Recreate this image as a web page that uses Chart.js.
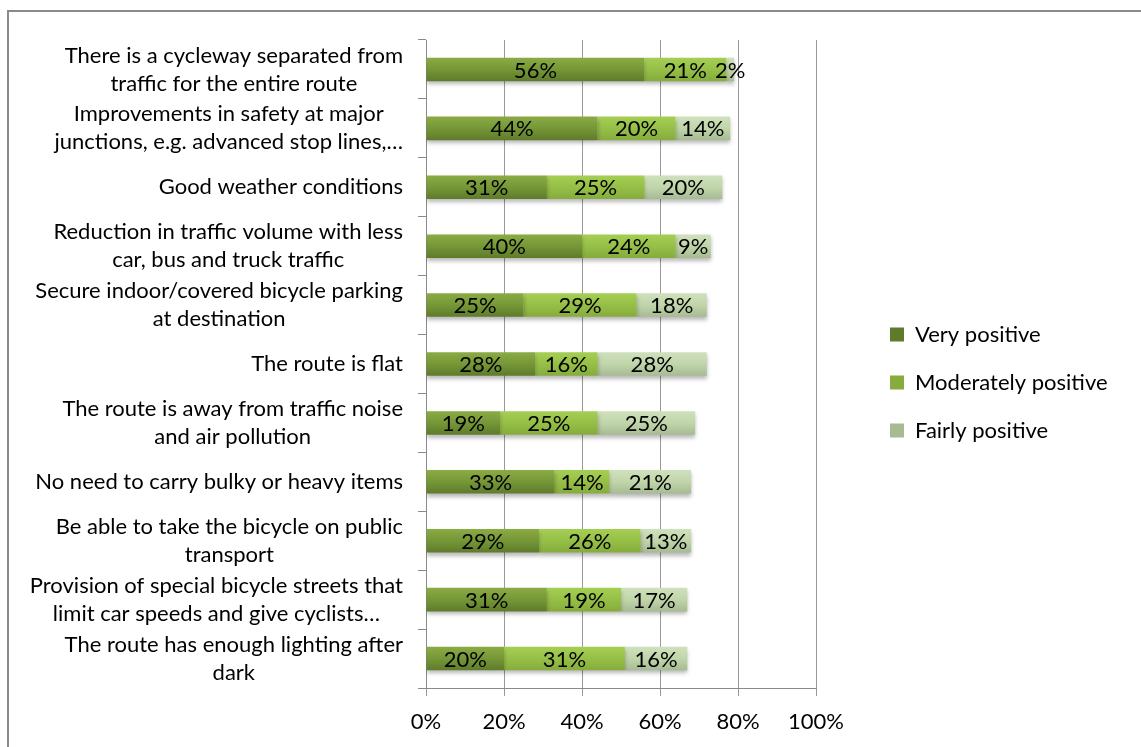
<!DOCTYPE html>
<html lang="en">
  <head>
    <meta charset="UTF-8" />
    <meta name="viewport" content="width=device-width, initial-scale=1.0" />
    <title>Factors encouraging cycling</title>

    <script src="https://cdn.jsdelivr.net/npm/chart.js@4.4.1/dist/chart.umd.min.js"></script>

    <style>
      body {
        margin: 0;
        background-color: white;
      }

      .chart-container {
        width: 1141px;
        height: 747px;
        position: relative;
      }
    </style>
  </head>

  <body>
    <div class="chart-container">
      <canvas id="myChart"></canvas>
    </div>

    <script>
      // ---------------- data ----------------
      const categories = [
        ["There is a cycleway separated from", "traffic for the entire route"],
        ["Improvements in safety at major", "junctions, e.g. advanced stop lines,…"],
        "Good weather conditions",
        ["Reduction in traffic volume with less", "car, bus and truck traffic"],
        ["Secure indoor/covered bicycle parking", "at destination"],
        "The route is flat",
        ["The route is away from traffic noise", "and air pollution"],
        "No need to carry bulky or heavy items",
        ["Be able to take the bicycle on public", "transport"],
        ["Provision of special bicycle streets that", "limit car speeds and give cyclists…"],
        ["The route has enough lighting after", "dark"],
      ];

      const veryPositive = [56, 44, 31, 40, 25, 28, 19, 33, 29, 31, 20];
      const moderatelyPositive = [21, 20, 25, 24, 29, 16, 25, 14, 26, 19, 31];
      const fairlyPositive = [2, 14, 20, 9, 18, 28, 25, 21, 13, 17, 16];

      const xTicks = [0, 20, 40, 60, 80, 100];

      // ---------------- look ----------------
      const FONT = "Lato";
      const FONT_SIZE = 22;
      const LINE_H = 28;

      // top, middle, bottom colour of each bar (Excel-ish gradient)
      const shades = {
        very: ["#8bab44", "#769737", "#5e7b2b"],
        moderate: ["#a5cf53", "#96bf47", "#85ac3c"],
        fairly: ["#d0e1bd", "#c0d5aa", "#a6bb92"],
      };

      const BAR_PCT = 0.4;
      const LEGEND_PAD = 26;
      const LEGEND_X = 890;     // where the legend boxes start
      const PLOT_RIGHT = 816;   // right edge of the plot area

      function barFill(stops) {
        return function (context) {
          const chart = context.chart;
          const y = chart.scales && chart.scales.y;
          if (context.dataIndex === undefined || !y || !y.height) {
            return stops[1];
          }
          const centre = y.getPixelForValue(context.dataIndex);
          const half = (y.height / categories.length) * BAR_PCT / 2;
          const g = chart.ctx.createLinearGradient(0, centre - half, 0, centre + half);
          g.addColorStop(0, stops[0]);
          g.addColorStop(0.5, stops[1]);
          g.addColorStop(1, stops[2]);
          return g;
        };
      }

      // outer frame, bar shadow, value labels and category labels
      const decorations = {
        id: "decorations",
        beforeDraw(chart) {
          const ctx = chart.ctx;
          ctx.save();
          ctx.strokeStyle = "#8a8a8a";
          ctx.lineWidth = 2;
          ctx.beginPath();
          ctx.moveTo(8, chart.height);
          ctx.lineTo(8, 11);
          ctx.lineTo(chart.width, 11);
          ctx.stroke();
          ctx.restore();
        },
        beforeDatasetsDraw(chart) {
          const ctx = chart.ctx;
          ctx.save();
          ctx.shadowColor = "rgba(0, 0, 0, 0.28)";
          ctx.shadowBlur = 4;
          ctx.shadowOffsetY = 3;
        },
        afterDatasetsDraw(chart) {
          const ctx = chart.ctx;
          ctx.restore();

          ctx.save();
          ctx.font = FONT_SIZE + "px " + FONT;
          ctx.fillStyle = "#000";
          ctx.textAlign = "center";
          ctx.textBaseline = "middle";
          chart.data.datasets.forEach((ds, di) => {
            const meta = chart.getDatasetMeta(di);
            meta.data.forEach((bar, i) => {
              const p = bar.getProps(["x", "y", "base"], true);
              ctx.fillText(ds.data[i] + "%", (p.x + p.base) / 2, p.y + 1);
            });
          });
          ctx.restore();
        },
        afterDraw(chart) {
          const ctx = chart.ctx;
          const y = chart.scales.y;
          const right = y.right - 23;
          ctx.save();
          ctx.font = FONT_SIZE + "px " + FONT;
          ctx.fillStyle = "#000";
          ctx.textAlign = "center";
          ctx.textBaseline = "middle";
          categories.forEach((lab, i) => {
            const lines = Array.isArray(lab) ? lab : [lab];
            const w = Math.max(...lines.map((l) => ctx.measureText(l).width));
            const cx = right - w / 2;
            const cy = y.getPixelForTick(i);
            lines.forEach((l, k) => {
              ctx.fillText(l, cx, cy + (k - (lines.length - 1) / 2) * LINE_H);
            });
          });
          ctx.restore();
        },
      };

      function drawChart() {
        // measure legend text so the legend lands where it should
        const mctx = document.createElement("canvas").getContext("2d");
        mctx.font = FONT_SIZE + "px " + FONT;
        const legendTextW = mctx.measureText("Moderately positive").width;
        const legendW = LEGEND_PAD + (14 + FONT_SIZE / 2 + legendTextW) + 10;
        const padRight = Math.max(0, 1141 - (LEGEND_X - LEGEND_PAD) - legendW);

        const ctx = document.getElementById("myChart").getContext("2d");
        return new Chart(ctx, {
          type: "bar",
          data: {
            labels: categories,
            datasets: [
              {
                label: "Very positive",
                data: veryPositive,
                backgroundColor: barFill(shades.very),
              },
              {
                label: "Moderately positive",
                data: moderatelyPositive,
                backgroundColor: barFill(shades.moderate),
              },
              {
                label: "Fairly positive",
                data: fairlyPositive,
                backgroundColor: barFill(shades.fairly),
              },
            ],
          },
          options: {
            indexAxis: "y",
            responsive: true,
            maintainAspectRatio: false,
            animation: false,
            datasets: {
              bar: {
                categoryPercentage: 1,
                barPercentage: BAR_PCT,
                borderWidth: 0,
              },
            },
            layout: {
              padding: { top: 30, bottom: 12, left: 0, right: padRight },
            },
            scales: {
              x: {
                stacked: true,
                min: 0,
                max: 100,
                afterBuildTicks: (scale) => {
                  scale.ticks = xTicks.map((v) => ({ value: v }));
                },
                ticks: {
                  callback: (v) => v + "%",
                  color: "#000",
                  font: { family: FONT, size: FONT_SIZE },
                  padding: 13,
                  maxRotation: 0,
                },
                grid: { color: "#999", tickLength: 8 },
                border: { color: "#8a8a8a" },
                afterFit: (scale) => {
                  scale.height = 47;
                },
              },
              y: {
                stacked: true,
                grid: {
                  offset: true,
                  drawOnChartArea: false,
                  tickLength: 8,
                  color: "#8a8a8a",
                },
                border: { color: "#8a8a8a" },
                ticks: { display: false },
                afterFit: (scale) => {
                  scale.width = 426;
                },
              },
              // empty spacers: room above the plot and between plot and legend
              topGap: {
                type: "linear",
                position: "top",
                display: true,
                grid: { display: false },
                ticks: { display: false },
                border: { display: false },
                afterFit: (scale) => {
                  scale.height = 10;
                },
              },
              gap: {
                type: "linear",
                position: "right",
                display: true,
                grid: { display: false },
                ticks: { display: false },
                border: { display: false },
                afterFit: (scale) => {
                  scale.width = LEGEND_X - LEGEND_PAD - PLOT_RIGHT;
                },
              },
            },
            plugins: {
              legend: {
                position: "right",
                maxWidth: 400,
                labels: {
                  boxWidth: 14,
                  boxHeight: 14,
                  padding: LEGEND_PAD,
                  color: "#000",
                  font: { family: FONT, size: FONT_SIZE },
                },
              },
              tooltip: { enabled: false },
            },
          },
          plugins: [decorations],
        });
      }

      let myChart;
      document.fonts.load(FONT_SIZE + "px " + FONT).then(
        () => { myChart = drawChart(); },
        () => { myChart = drawChart(); }
      );
    </script>
  </body>
</html>
